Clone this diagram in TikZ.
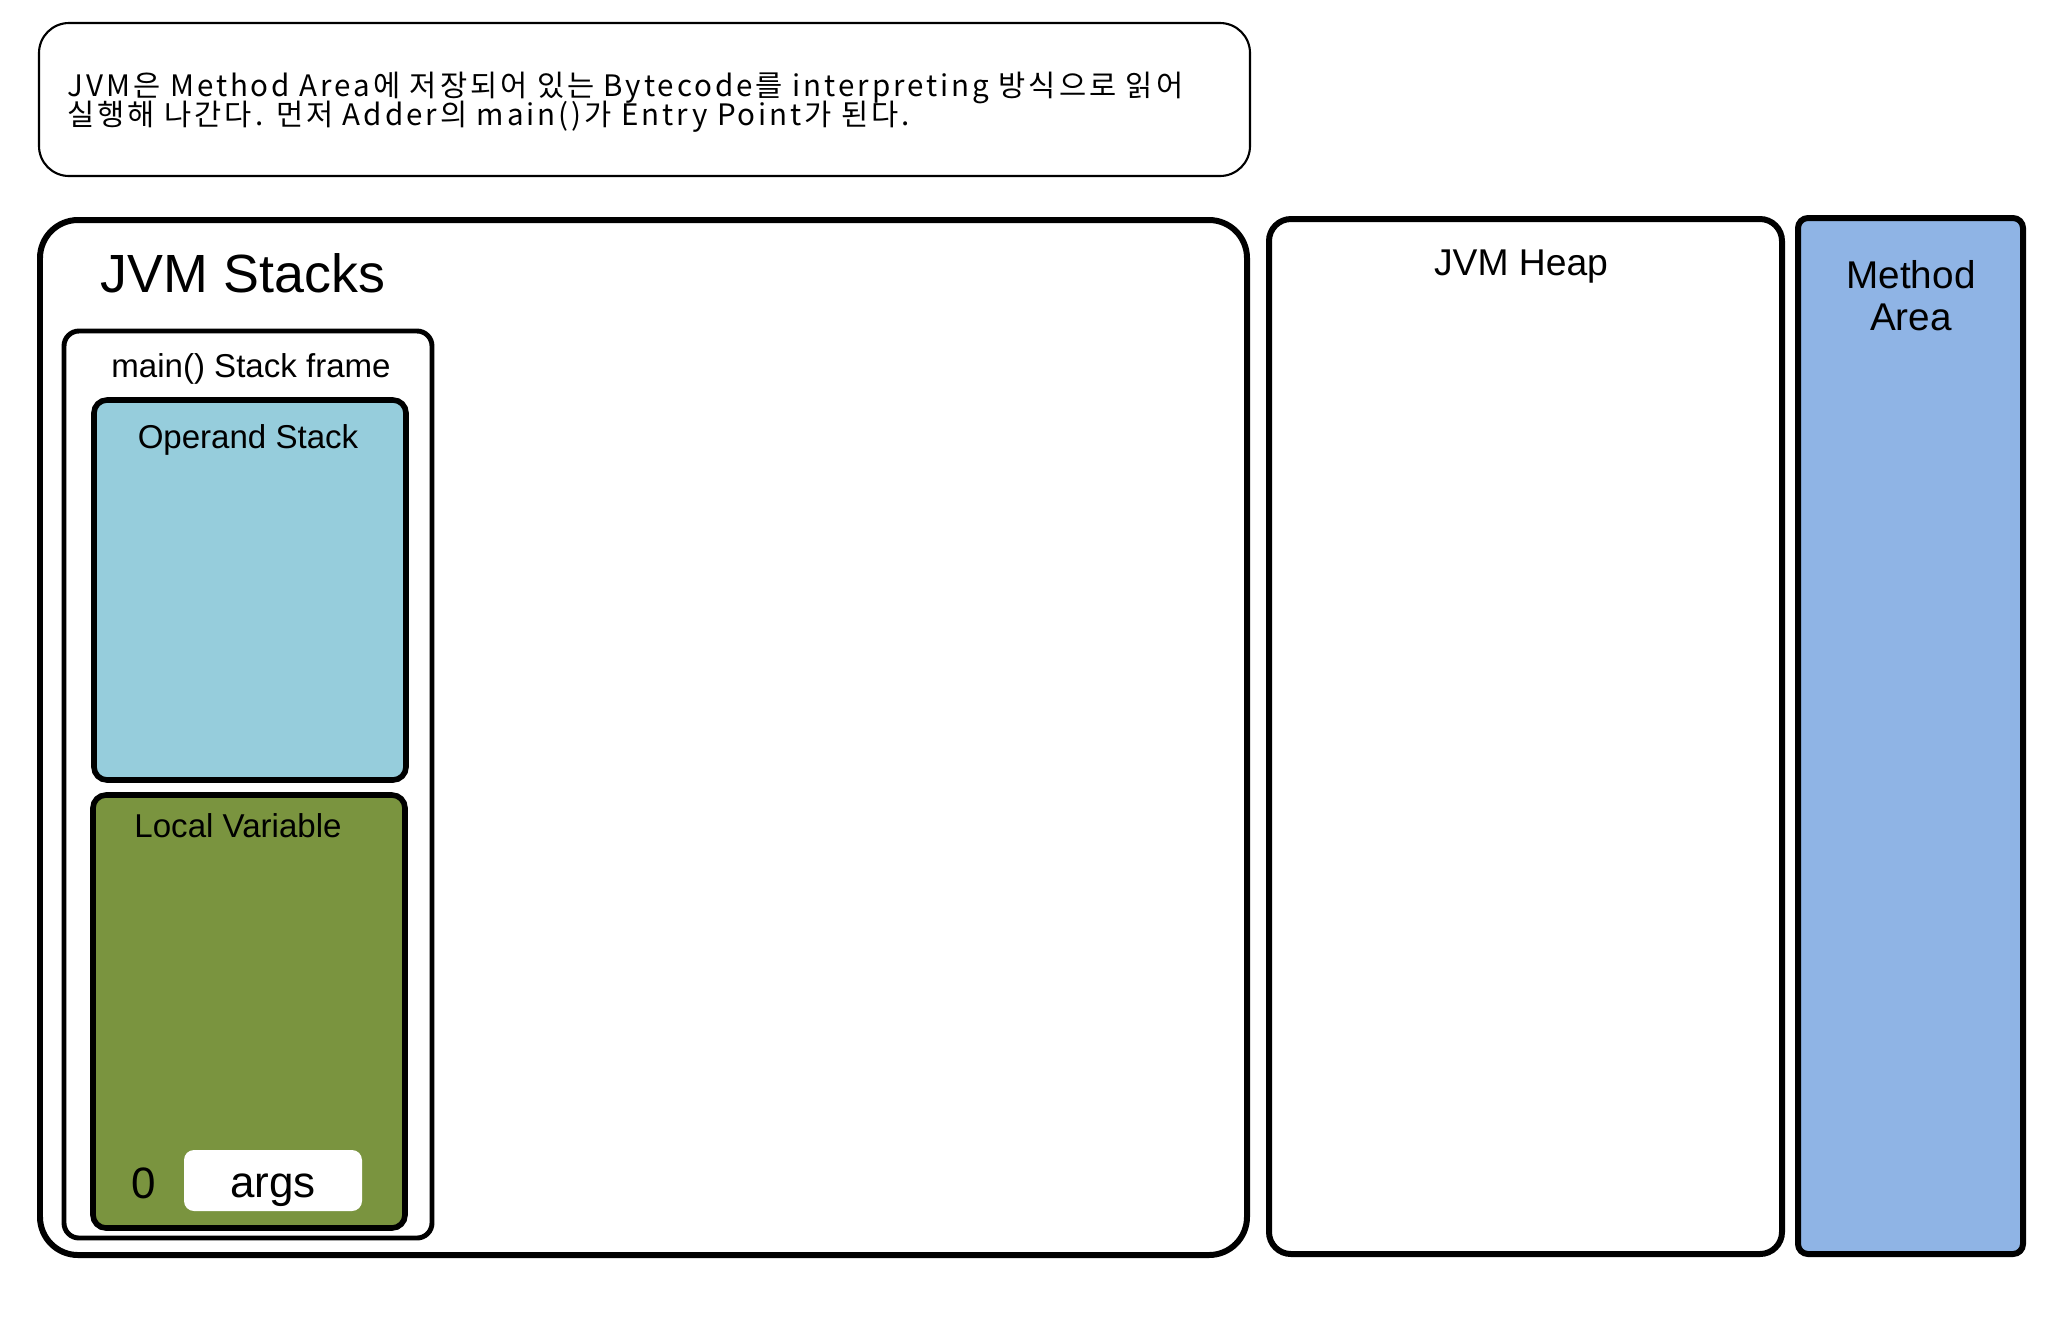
\documentclass[tikz,border=0pt]{standalone}
\usepackage{fontspec}
\setmainfont{Liberation Sans}
\newfontfamily\krfont[LetterSpace=10]{Noto Sans CJK KR}

\definecolor{opblue}{RGB}{150,205,220}
\definecolor{lvgreen}{RGB}{122,148,63}
\definecolor{areablue}{RGB}{143,180,229}

\begin{document}
\begin{tikzpicture}[x=0.01cm,y=-0.01cm,
  area/.style={draw,line width=1.7pt,rounded corners=#1},
  area/.default=0.2cm,
  part/.style={draw,line width=1.6pt,rounded corners=0.13cm},
  lbl/.style={inner sep=0pt,anchor=base},
  notefont/.style={font=\krfont\fontsize{8.4}{8.9}\selectfont},
  midfont/.style={font=\fontsize{9.4}{11}\selectfont}]

\useasboundingbox (0,0) rectangle (2048,1326);

% nota in alto
\draw[line width=0.6pt,rounded corners=0.3cm] (39,23) rectangle (1250,176);
\node[lbl,notefont,anchor=base west] (note1) at (67,96) {JVM은 Method Area에 저장되어 있는 Bytecode를 interpreting 방식으로 읽어};
\node[lbl,notefont,anchor=base west] (note2) at (67,125) {실행해 나간다. 먼저 Adder의 main()가 Entry Point가 된다.};

% JVM Stacks
\draw[area=0.38cm] (40,220) rectangle (1247,1255);
\node[lbl,font=\fontsize{15.3}{18}\selectfont] (stacks) at (243,292) {JVM Stacks};

% stack frame di main()
\draw[part,line width=1.4pt,rounded corners=0.15cm] (64,331) rectangle (432,1238);
\node[lbl,midfont] (frame) at (251,377) {main() Stack frame};

% operand stack
\draw[part,fill=opblue] (94,400) rectangle (406,780);
\node[lbl,midfont] (operand) at (248,448) {Operand Stack};

% local variable
\draw[part,fill=lvgreen] (93,795) rectangle (405,1228);
\node[lbl,midfont] (local) at (238,837) {Local Variable};
\node[lbl,font=\fontsize{12.5}{15}\selectfont] (idx) at (144,1198) {0};
\fill[white,rounded corners=0.1cm] (184,1150) rectangle (362,1211);
\node[lbl,font=\fontsize{12.5}{15}\selectfont] (args) at (273,1197) {args};

% heap
\draw[area=0.22cm] (1269,219) rectangle (1782,1254);
\node[lbl,font=\fontsize{10.6}{12}\selectfont] (heap) at (1521,275) {JVM Heap};

% method area
\draw[area=0.1cm,fill=areablue] (1798,218) rectangle (2023,1254);
\node[lbl,font=\fontsize{11}{12}\selectfont] (method) at (1911,288) {Method};
\node[lbl,font=\fontsize{11}{12}\selectfont] (marea) at (1911,330) {Area};

\end{tikzpicture}
\end{document}
